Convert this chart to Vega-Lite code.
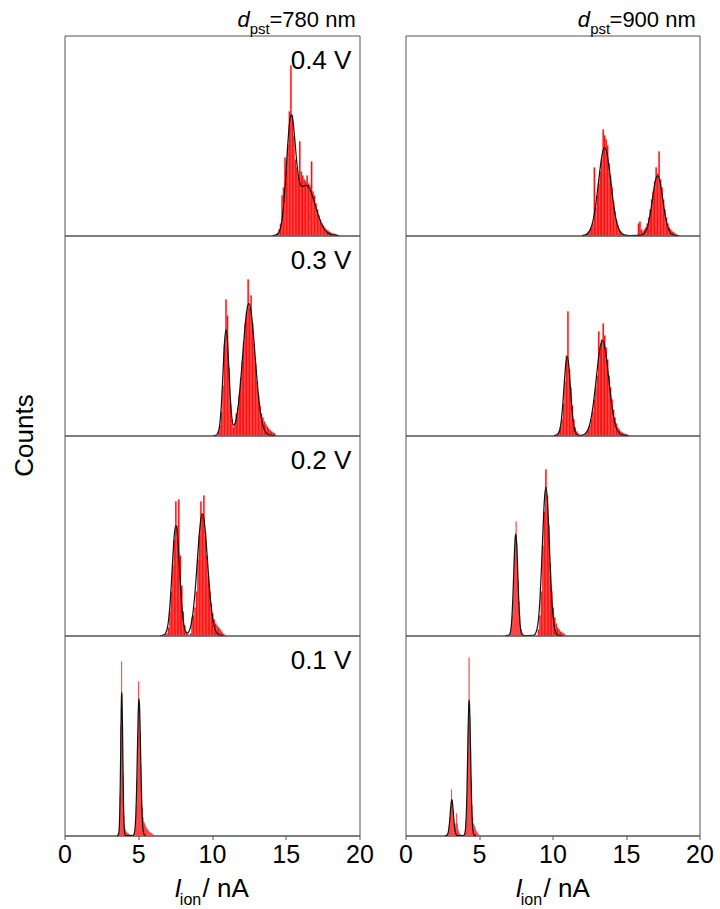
{
"$schema":"https://vega.github.io/schema/vega-lite/v6.json",
"background":"white",
"padding":{"left":10.5,"top":8.5,"right":5,"bottom":5},
"config":{"view":{"stroke":"#555","strokeWidth":1},"text":{"font":"Liberation Sans","color":"#000"},
"axis":{"labelFont":"Liberation Sans","labelFontSize":25,"labelColor":"#000","labelPadding":3,"labelFlush":false,"labelOverlap":false,"tickSize":4,"tickColor":"#555","domainColor":"#555","grid":false,"title":null}},
"datasets":{
"bars":[
{"p":"L1","a":14.4,"b":14.5,"c":1},{"p":"L1","a":14.5,"b":14.6,"c":3},{"p":"L1","a":14.6,"b":14.7,"c":6},{"p":"L1","a":14.7,"b":14.8,"c":20},{"p":"L1","a":14.8,"b":14.9,"c":24},{"p":"L1","a":14.9,"b":15.0,"c":39},{"p":"L1","a":15.0,"b":15.1,"c":33},{"p":"L1","a":15.1,"b":15.2,"c":45},{"p":"L1","a":15.2,"b":15.3,"c":62},{"p":"L1","a":15.3,"b":15.4,"c":85},{"p":"L1","a":15.4,"b":15.5,"c":60},{"p":"L1","a":15.5,"b":15.6,"c":50},{"p":"L1","a":15.6,"b":15.7,"c":38},{"p":"L1","a":15.7,"b":15.8,"c":34},{"p":"L1","a":15.8,"b":15.9,"c":30},{"p":"L1","a":15.9,"b":16.0,"c":47},{"p":"L1","a":16.0,"b":16.1,"c":32},{"p":"L1","a":16.1,"b":16.2,"c":30},{"p":"L1","a":16.2,"b":16.3,"c":28},{"p":"L1","a":16.3,"b":16.4,"c":27},{"p":"L1","a":16.4,"b":16.5,"c":30},{"p":"L1","a":16.5,"b":16.6,"c":26},{"p":"L1","a":16.6,"b":16.7,"c":25},{"p":"L1","a":16.7,"b":16.8,"c":37},{"p":"L1","a":16.8,"b":16.9,"c":22},{"p":"L1","a":16.9,"b":17.0,"c":20},{"p":"L1","a":17.0,"b":17.1,"c":16},{"p":"L1","a":17.1,"b":17.2,"c":13},{"p":"L1","a":17.2,"b":17.3,"c":10},{"p":"L1","a":17.3,"b":17.4,"c":8},{"p":"L1","a":17.4,"b":17.5,"c":6},{"p":"L1","a":17.5,"b":17.6,"c":5},{"p":"L1","a":17.6,"b":17.7,"c":4},{"p":"L1","a":17.7,"b":17.8,"c":3},{"p":"L1","a":17.8,"b":17.9,"c":2.5},{"p":"L1","a":17.9,"b":18.0,"c":2},{"p":"L1","a":18.0,"b":18.1,"c":1.5},{"p":"L1","a":18.1,"b":18.2,"c":1},{"p":"L1","a":18.2,"b":18.3,"c":1},{"p":"L1","a":18.3,"b":18.4,"c":0.8},{"p":"L1","a":18.4,"b":18.5,"c":0.5},
{"p":"R1","a":12.3,"b":12.4,"c":1},{"p":"R1","a":12.4,"b":12.5,"c":2},{"p":"R1","a":12.5,"b":12.6,"c":3},{"p":"R1","a":12.6,"b":12.7,"c":4},{"p":"R1","a":12.7,"b":12.8,"c":6},{"p":"R1","a":12.8,"b":12.9,"c":34},{"p":"R1","a":12.9,"b":13.0,"c":14},{"p":"R1","a":13.0,"b":13.1,"c":20},{"p":"R1","a":13.1,"b":13.2,"c":26},{"p":"R1","a":13.2,"b":13.3,"c":32},{"p":"R1","a":13.3,"b":13.4,"c":38},{"p":"R1","a":13.4,"b":13.5,"c":53},{"p":"R1","a":13.5,"b":13.6,"c":50},{"p":"R1","a":13.6,"b":13.7,"c":48},{"p":"R1","a":13.7,"b":13.8,"c":45},{"p":"R1","a":13.8,"b":13.9,"c":36},{"p":"R1","a":13.9,"b":14.0,"c":30},{"p":"R1","a":14.0,"b":14.1,"c":24},{"p":"R1","a":14.1,"b":14.2,"c":17},{"p":"R1","a":14.2,"b":14.3,"c":12},{"p":"R1","a":14.3,"b":14.4,"c":8},{"p":"R1","a":14.4,"b":14.5,"c":5},{"p":"R1","a":14.5,"b":14.6,"c":3},{"p":"R1","a":14.6,"b":14.7,"c":2},{"p":"R1","a":14.7,"b":14.8,"c":1},{"p":"R1","a":14.8,"b":14.9,"c":0.5},
{"p":"R1","a":15.8,"b":15.9,"c":6},{"p":"R1","a":15.9,"b":16.0,"c":7},{"p":"R1","a":16.0,"b":16.1,"c":3},{"p":"R1","a":16.1,"b":16.2,"c":2},{"p":"R1","a":16.2,"b":16.3,"c":3},{"p":"R1","a":16.3,"b":16.4,"c":4},{"p":"R1","a":16.4,"b":16.5,"c":6},{"p":"R1","a":16.5,"b":16.6,"c":9},{"p":"R1","a":16.6,"b":16.7,"c":13},{"p":"R1","a":16.7,"b":16.8,"c":18},{"p":"R1","a":16.8,"b":16.9,"c":22},{"p":"R1","a":16.9,"b":17.0,"c":27},{"p":"R1","a":17.0,"b":17.1,"c":34},{"p":"R1","a":17.1,"b":17.2,"c":31},{"p":"R1","a":17.2,"b":17.3,"c":42},{"p":"R1","a":17.3,"b":17.4,"c":28},{"p":"R1","a":17.4,"b":17.5,"c":24},{"p":"R1","a":17.5,"b":17.6,"c":18},{"p":"R1","a":17.6,"b":17.7,"c":13},{"p":"R1","a":17.7,"b":17.8,"c":9},{"p":"R1","a":17.8,"b":17.9,"c":6},{"p":"R1","a":17.9,"b":18.0,"c":4},{"p":"R1","a":18.0,"b":18.1,"c":3},{"p":"R1","a":18.1,"b":18.2,"c":2},{"p":"R1","a":18.2,"b":18.3,"c":1.5},{"p":"R1","a":18.3,"b":18.4,"c":1},{"p":"R1","a":18.4,"b":18.5,"c":0.5},
{"p":"L2","a":10.4,"b":10.5,"c":2},{"p":"L2","a":10.5,"b":10.6,"c":5},{"p":"L2","a":10.6,"b":10.7,"c":12},{"p":"L2","a":10.7,"b":10.8,"c":25},{"p":"L2","a":10.8,"b":10.9,"c":45},{"p":"L2","a":10.9,"b":11.0,"c":68},{"p":"L2","a":11.0,"b":11.1,"c":60},{"p":"L2","a":11.1,"b":11.2,"c":34},{"p":"L2","a":11.2,"b":11.3,"c":16},{"p":"L2","a":11.3,"b":11.4,"c":8},{"p":"L2","a":11.4,"b":11.5,"c":4},{"p":"L2","a":11.5,"b":11.6,"c":6},{"p":"L2","a":11.6,"b":11.7,"c":11},{"p":"L2","a":11.7,"b":11.8,"c":14},{"p":"L2","a":11.8,"b":11.9,"c":20},{"p":"L2","a":11.9,"b":12.0,"c":29},{"p":"L2","a":12.0,"b":12.1,"c":37},{"p":"L2","a":12.1,"b":12.2,"c":47},{"p":"L2","a":12.2,"b":12.3,"c":56},{"p":"L2","a":12.3,"b":12.4,"c":62},{"p":"L2","a":12.4,"b":12.5,"c":78},{"p":"L2","a":12.5,"b":12.6,"c":64},{"p":"L2","a":12.6,"b":12.7,"c":70},{"p":"L2","a":12.7,"b":12.8,"c":56},{"p":"L2","a":12.8,"b":12.9,"c":46},{"p":"L2","a":12.9,"b":13.0,"c":36},{"p":"L2","a":13.0,"b":13.1,"c":27},{"p":"L2","a":13.1,"b":13.2,"c":20},{"p":"L2","a":13.2,"b":13.3,"c":15},{"p":"L2","a":13.3,"b":13.4,"c":11},{"p":"L2","a":13.4,"b":13.5,"c":9},{"p":"L2","a":13.5,"b":13.6,"c":7},{"p":"L2","a":13.6,"b":13.7,"c":5.5},{"p":"L2","a":13.7,"b":13.8,"c":4.5},{"p":"L2","a":13.8,"b":13.9,"c":3.5},{"p":"L2","a":13.9,"b":14.0,"c":2.5},{"p":"L2","a":14.0,"b":14.1,"c":2},{"p":"L2","a":14.1,"b":14.2,"c":1.5},{"p":"L2","a":14.2,"b":14.3,"c":1},
{"p":"R2","a":10.2,"b":10.3,"c":0.5},{"p":"R2","a":10.3,"b":10.4,"c":1},{"p":"R2","a":10.4,"b":10.5,"c":2},{"p":"R2","a":10.5,"b":10.6,"c":4},{"p":"R2","a":10.6,"b":10.7,"c":8},{"p":"R2","a":10.7,"b":10.8,"c":16},{"p":"R2","a":10.8,"b":10.9,"c":27},{"p":"R2","a":10.9,"b":11.0,"c":40},{"p":"R2","a":11.0,"b":11.1,"c":62},{"p":"R2","a":11.1,"b":11.2,"c":33},{"p":"R2","a":11.2,"b":11.3,"c":24},{"p":"R2","a":11.3,"b":11.4,"c":15},{"p":"R2","a":11.4,"b":11.5,"c":8},{"p":"R2","a":11.5,"b":11.6,"c":4},{"p":"R2","a":11.6,"b":11.7,"c":2},{"p":"R2","a":11.7,"b":11.8,"c":1},
{"p":"R2","a":12.2,"b":12.3,"c":1},{"p":"R2","a":12.3,"b":12.4,"c":2},{"p":"R2","a":12.4,"b":12.5,"c":3},{"p":"R2","a":12.5,"b":12.6,"c":5},{"p":"R2","a":12.6,"b":12.7,"c":8},{"p":"R2","a":12.7,"b":12.8,"c":12},{"p":"R2","a":12.8,"b":12.9,"c":18},{"p":"R2","a":12.9,"b":13.0,"c":24},{"p":"R2","a":13.0,"b":13.1,"c":30},{"p":"R2","a":13.1,"b":13.2,"c":52},{"p":"R2","a":13.2,"b":13.3,"c":44},{"p":"R2","a":13.3,"b":13.4,"c":48},{"p":"R2","a":13.4,"b":13.5,"c":56},{"p":"R2","a":13.5,"b":13.6,"c":50},{"p":"R2","a":13.6,"b":13.7,"c":44},{"p":"R2","a":13.7,"b":13.8,"c":38},{"p":"R2","a":13.8,"b":13.9,"c":30},{"p":"R2","a":13.9,"b":14.0,"c":24},{"p":"R2","a":14.0,"b":14.1,"c":18},{"p":"R2","a":14.1,"b":14.2,"c":13},{"p":"R2","a":14.2,"b":14.3,"c":9},{"p":"R2","a":14.3,"b":14.4,"c":6},{"p":"R2","a":14.4,"b":14.5,"c":4},{"p":"R2","a":14.5,"b":14.6,"c":3},{"p":"R2","a":14.6,"b":14.7,"c":2},{"p":"R2","a":14.7,"b":14.8,"c":1.5},{"p":"R2","a":14.8,"b":14.9,"c":1},{"p":"R2","a":14.9,"b":15.0,"c":0.8},{"p":"R2","a":15.0,"b":15.1,"c":0.5},
{"p":"L3","a":6.8,"b":6.9,"c":0.5},{"p":"L3","a":6.9,"b":7.0,"c":1},{"p":"L3","a":7.0,"b":7.1,"c":4},{"p":"L3","a":7.1,"b":7.2,"c":12},{"p":"L3","a":7.2,"b":7.3,"c":22},{"p":"L3","a":7.3,"b":7.4,"c":35},{"p":"L3","a":7.4,"b":7.5,"c":48},{"p":"L3","a":7.5,"b":7.6,"c":67},{"p":"L3","a":7.6,"b":7.7,"c":55},{"p":"L3","a":7.7,"b":7.8,"c":68},{"p":"L3","a":7.8,"b":7.9,"c":40},{"p":"L3","a":7.9,"b":8.0,"c":25},{"p":"L3","a":8.0,"b":8.1,"c":12},{"p":"L3","a":8.1,"b":8.2,"c":5},{"p":"L3","a":8.2,"b":8.3,"c":2},{"p":"L3","a":8.3,"b":8.4,"c":1},
{"p":"L3","a":8.5,"b":8.6,"c":1},{"p":"L3","a":8.6,"b":8.7,"c":9},{"p":"L3","a":8.7,"b":8.8,"c":10},{"p":"L3","a":8.8,"b":8.9,"c":14},{"p":"L3","a":8.9,"b":9.0,"c":22},{"p":"L3","a":9.0,"b":9.1,"c":38},{"p":"L3","a":9.1,"b":9.2,"c":50},{"p":"L3","a":9.2,"b":9.3,"c":67},{"p":"L3","a":9.3,"b":9.4,"c":60},{"p":"L3","a":9.4,"b":9.5,"c":70},{"p":"L3","a":9.5,"b":9.6,"c":52},{"p":"L3","a":9.6,"b":9.7,"c":40},{"p":"L3","a":9.7,"b":9.8,"c":30},{"p":"L3","a":9.8,"b":9.9,"c":22},{"p":"L3","a":9.9,"b":10.0,"c":16},{"p":"L3","a":10.0,"b":10.1,"c":11},{"p":"L3","a":10.1,"b":10.2,"c":8},{"p":"L3","a":10.2,"b":10.3,"c":6},{"p":"L3","a":10.3,"b":10.4,"c":5},{"p":"L3","a":10.4,"b":10.5,"c":4},{"p":"L3","a":10.5,"b":10.6,"c":3},{"p":"L3","a":10.6,"b":10.7,"c":2},{"p":"L3","a":10.7,"b":10.8,"c":1},{"p":"L3","a":10.8,"b":10.9,"c":0.5},
{"p":"R3","a":7.1,"b":7.15,"c":1},{"p":"R3","a":7.15,"b":7.2,"c":2},{"p":"R3","a":7.2,"b":7.25,"c":5},{"p":"R3","a":7.25,"b":7.3,"c":10},{"p":"R3","a":7.3,"b":7.35,"c":18},{"p":"R3","a":7.35,"b":7.4,"c":28},{"p":"R3","a":7.4,"b":7.45,"c":40},{"p":"R3","a":7.45,"b":7.5,"c":50},{"p":"R3","a":7.5,"b":7.55,"c":57},{"p":"R3","a":7.55,"b":7.6,"c":46},{"p":"R3","a":7.6,"b":7.65,"c":38},{"p":"R3","a":7.65,"b":7.7,"c":27},{"p":"R3","a":7.7,"b":7.75,"c":17},{"p":"R3","a":7.75,"b":7.8,"c":10},{"p":"R3","a":7.8,"b":7.85,"c":5},{"p":"R3","a":7.85,"b":7.9,"c":3},{"p":"R3","a":7.9,"b":7.95,"c":1.5},{"p":"R3","a":7.95,"b":8.0,"c":1},
{"p":"R3","a":9.0,"b":9.1,"c":3},{"p":"R3","a":9.1,"b":9.2,"c":10},{"p":"R3","a":9.2,"b":9.3,"c":22},{"p":"R3","a":9.3,"b":9.4,"c":45},{"p":"R3","a":9.4,"b":9.5,"c":62},{"p":"R3","a":9.5,"b":9.6,"c":83},{"p":"R3","a":9.6,"b":9.7,"c":70},{"p":"R3","a":9.7,"b":9.8,"c":55},{"p":"R3","a":9.8,"b":9.9,"c":36},{"p":"R3","a":9.9,"b":10.0,"c":22},{"p":"R3","a":10.0,"b":10.1,"c":14},{"p":"R3","a":10.1,"b":10.2,"c":9},{"p":"R3","a":10.2,"b":10.3,"c":6},{"p":"R3","a":10.3,"b":10.4,"c":4},{"p":"R3","a":10.4,"b":10.5,"c":3},{"p":"R3","a":10.5,"b":10.6,"c":2},{"p":"R3","a":10.6,"b":10.7,"c":1.5},{"p":"R3","a":10.7,"b":10.8,"c":1},{"p":"R3","a":10.8,"b":10.9,"c":0.5},
{"p":"L4","a":3.6,"b":3.65,"c":0.5},{"p":"L4","a":3.65,"b":3.7,"c":1},{"p":"L4","a":3.7,"b":3.75,"c":4},{"p":"L4","a":3.75,"b":3.8,"c":20},{"p":"L4","a":3.8,"b":3.85,"c":55},{"p":"L4","a":3.85,"b":3.9,"c":87},{"p":"L4","a":3.9,"b":3.95,"c":60},{"p":"L4","a":3.95,"b":4.0,"c":30},{"p":"L4","a":4.0,"b":4.05,"c":10},{"p":"L4","a":4.05,"b":4.1,"c":5},{"p":"L4","a":4.1,"b":4.15,"c":3},{"p":"L4","a":4.15,"b":4.2,"c":2},{"p":"L4","a":4.2,"b":4.25,"c":1.5},{"p":"L4","a":4.25,"b":4.3,"c":1},{"p":"L4","a":4.3,"b":4.35,"c":1},{"p":"L4","a":4.35,"b":4.4,"c":0.5},{"p":"L4","a":4.4,"b":4.45,"c":0.5},
{"p":"L4","a":4.7,"b":4.75,"c":0.5},{"p":"L4","a":4.75,"b":4.8,"c":2},{"p":"L4","a":4.8,"b":4.85,"c":6},{"p":"L4","a":4.85,"b":4.9,"c":15},{"p":"L4","a":4.9,"b":4.95,"c":28},{"p":"L4","a":4.95,"b":5.0,"c":50},{"p":"L4","a":5.0,"b":5.05,"c":77},{"p":"L4","a":5.05,"b":5.1,"c":66},{"p":"L4","a":5.1,"b":5.15,"c":52},{"p":"L4","a":5.15,"b":5.2,"c":35},{"p":"L4","a":5.2,"b":5.25,"c":22},{"p":"L4","a":5.25,"b":5.3,"c":14},{"p":"L4","a":5.3,"b":5.35,"c":9},{"p":"L4","a":5.35,"b":5.4,"c":7},{"p":"L4","a":5.4,"b":5.45,"c":6},{"p":"L4","a":5.45,"b":5.5,"c":5},{"p":"L4","a":5.5,"b":5.55,"c":4},{"p":"L4","a":5.55,"b":5.6,"c":3.5},{"p":"L4","a":5.6,"b":5.65,"c":3},{"p":"L4","a":5.65,"b":5.7,"c":2.5},{"p":"L4","a":5.7,"b":5.75,"c":2},{"p":"L4","a":5.75,"b":5.8,"c":1.5},{"p":"L4","a":5.8,"b":5.85,"c":1.5},{"p":"L4","a":5.85,"b":5.9,"c":1},{"p":"L4","a":5.9,"b":5.95,"c":1},{"p":"L4","a":5.95,"b":6.0,"c":0.5},{"p":"L4","a":6.0,"b":6.05,"c":0.5},
{"p":"R4","a":2.85,"b":2.9,"c":1},{"p":"R4","a":2.9,"b":2.95,"c":2},{"p":"R4","a":2.95,"b":3.0,"c":5},{"p":"R4","a":3.0,"b":3.05,"c":9},{"p":"R4","a":3.05,"b":3.1,"c":14},{"p":"R4","a":3.1,"b":3.15,"c":23},{"p":"R4","a":3.15,"b":3.2,"c":18},{"p":"R4","a":3.2,"b":3.25,"c":13},{"p":"R4","a":3.25,"b":3.3,"c":8},{"p":"R4","a":3.3,"b":3.35,"c":5},{"p":"R4","a":3.35,"b":3.4,"c":4},{"p":"R4","a":3.4,"b":3.45,"c":6},{"p":"R4","a":3.45,"b":3.5,"c":11},{"p":"R4","a":3.5,"b":3.55,"c":6},{"p":"R4","a":3.55,"b":3.6,"c":3},{"p":"R4","a":3.6,"b":3.65,"c":2},{"p":"R4","a":3.65,"b":3.7,"c":1},{"p":"R4","a":3.7,"b":3.75,"c":0.5},
{"p":"R4","a":4.0,"b":4.05,"c":1},{"p":"R4","a":4.05,"b":4.1,"c":3},{"p":"R4","a":4.1,"b":4.15,"c":8},{"p":"R4","a":4.15,"b":4.2,"c":18},{"p":"R4","a":4.2,"b":4.25,"c":35},{"p":"R4","a":4.25,"b":4.3,"c":55},{"p":"R4","a":4.3,"b":4.35,"c":89},{"p":"R4","a":4.35,"b":4.4,"c":60},{"p":"R4","a":4.4,"b":4.45,"c":42},{"p":"R4","a":4.45,"b":4.5,"c":28},{"p":"R4","a":4.5,"b":4.55,"c":15},{"p":"R4","a":4.55,"b":4.6,"c":9},{"p":"R4","a":4.6,"b":4.65,"c":6},{"p":"R4","a":4.65,"b":4.7,"c":5},{"p":"R4","a":4.7,"b":4.75,"c":4},{"p":"R4","a":4.75,"b":4.8,"c":3},{"p":"R4","a":4.8,"b":4.85,"c":2},{"p":"R4","a":4.85,"b":4.9,"c":1.5},{"p":"R4","a":4.9,"b":4.95,"c":1},{"p":"R4","a":4.95,"b":5.0,"c":0.5}
],
"fit":[
{"p":"L1","x":14.1,"y":0},{"p":"L1","x":14.3,"y":0.2},{"p":"L1","x":14.5,"y":1.2},{"p":"L1","x":14.7,"y":5.7},{"p":"L1","x":14.9,"y":19},{"p":"L1","x":15.0,"y":29.5},{"p":"L1","x":15.1,"y":41.3},{"p":"L1","x":15.2,"y":51.9},{"p":"L1","x":15.3,"y":58.9},{"p":"L1","x":15.4,"y":60.4},{"p":"L1","x":15.5,"y":56.6},{"p":"L1","x":15.6,"y":49.2},{"p":"L1","x":15.7,"y":40.5},{"p":"L1","x":15.8,"y":33.1},{"p":"L1","x":15.9,"y":27.9},{"p":"L1","x":16.0,"y":25.3},{"p":"L1","x":16.1,"y":24.5},{"p":"L1","x":16.2,"y":24.6},{"p":"L1","x":16.3,"y":25.1},{"p":"L1","x":16.4,"y":25.1},{"p":"L1","x":16.6,"y":23.6},{"p":"L1","x":16.8,"y":20},{"p":"L1","x":17.0,"y":15.2},{"p":"L1","x":17.2,"y":10.3},{"p":"L1","x":17.4,"y":6.2},{"p":"L1","x":17.6,"y":3.4},{"p":"L1","x":17.8,"y":1.6},{"p":"L1","x":18.0,"y":0.7},{"p":"L1","x":18.3,"y":0.2},{"p":"L1","x":18.6,"y":0},
{"p":"R1","x":12.0,"y":0},{"p":"R1","x":12.15,"y":0.17},{"p":"R1","x":12.35,"y":0.74},{"p":"R1","x":12.55,"y":2.6},{"p":"R1","x":12.75,"y":7.2},{"p":"R1","x":12.85,"y":11},{"p":"R1","x":12.95,"y":15.9},{"p":"R1","x":13.05,"y":21.7},{"p":"R1","x":13.15,"y":28},{"p":"R1","x":13.25,"y":34.1},{"p":"R1","x":13.35,"y":39.3},{"p":"R1","x":13.45,"y":42.8},{"p":"R1","x":13.55,"y":44},{"p":"R1","x":13.65,"y":42.8},{"p":"R1","x":13.75,"y":39.3},{"p":"R1","x":13.85,"y":34.1},{"p":"R1","x":13.95,"y":28},{"p":"R1","x":14.05,"y":21.7},{"p":"R1","x":14.15,"y":15.9},{"p":"R1","x":14.25,"y":11},{"p":"R1","x":14.35,"y":7.2},{"p":"R1","x":14.55,"y":2.6},{"p":"R1","x":14.75,"y":0.74},{"p":"R1","x":14.95,"y":0.17},{"p":"R1","x":15.2,"y":0},{"p":"R1","x":15.8,"y":0.03},{"p":"R1","x":15.95,"y":0.08},{"p":"R1","x":16.15,"y":0.5},{"p":"R1","x":16.35,"y":2.2},{"p":"R1","x":16.45,"y":4.06},{"p":"R1","x":16.55,"y":6.9},{"p":"R1","x":16.65,"y":10.8},{"p":"R1","x":16.75,"y":15.6},{"p":"R1","x":16.85,"y":20.8},{"p":"R1","x":16.95,"y":25.5},{"p":"R1","x":17.05,"y":28.8},{"p":"R1","x":17.15,"y":30},{"p":"R1","x":17.25,"y":28.8},{"p":"R1","x":17.35,"y":25.5},{"p":"R1","x":17.45,"y":20.8},{"p":"R1","x":17.55,"y":15.6},{"p":"R1","x":17.65,"y":10.8},{"p":"R1","x":17.75,"y":6.9},{"p":"R1","x":17.85,"y":4.06},{"p":"R1","x":17.95,"y":2.2},{"p":"R1","x":18.15,"y":0.5},{"p":"R1","x":18.35,"y":0.08},{"p":"R1","x":18.6,"y":0},
{"p":"L2","x":10.1,"y":0},{"p":"L2","x":10.25,"y":0.1},{"p":"L2","x":10.45,"y":2.3},{"p":"L2","x":10.55,"y":7.2},{"p":"L2","x":10.65,"y":17.2},{"p":"L2","x":10.75,"y":32.1},{"p":"L2","x":10.85,"y":46.8},{"p":"L2","x":10.95,"y":53.1},{"p":"L2","x":11.05,"y":47},{"p":"L2","x":11.15,"y":32.5},{"p":"L2","x":11.25,"y":18},{"p":"L2","x":11.35,"y":8.75},{"p":"L2","x":11.45,"y":5.2},{"p":"L2","x":11.55,"y":5.7},{"p":"L2","x":11.65,"y":8.6},{"p":"L2","x":11.8,"y":16.4},{"p":"L2","x":11.9,"y":23.8},{"p":"L2","x":12.0,"y":32.5},{"p":"L2","x":12.1,"y":41.9},{"p":"L2","x":12.2,"y":51.2},{"p":"L2","x":12.3,"y":58.9},{"p":"L2","x":12.4,"y":64.2},{"p":"L2","x":12.5,"y":66},{"p":"L2","x":12.6,"y":64.2},{"p":"L2","x":12.7,"y":58.9},{"p":"L2","x":12.8,"y":51.2},{"p":"L2","x":12.9,"y":41.9},{"p":"L2","x":13.0,"y":32.5},{"p":"L2","x":13.1,"y":23.8},{"p":"L2","x":13.2,"y":16.4},{"p":"L2","x":13.3,"y":10.8},{"p":"L2","x":13.4,"y":6.6},{"p":"L2","x":13.5,"y":3.9},{"p":"L2","x":13.6,"y":2.1},{"p":"L2","x":13.7,"y":1.1},{"p":"L2","x":13.8,"y":0.55},{"p":"L2","x":13.9,"y":0.26},{"p":"L2","x":14.1,"y":0.05},{"p":"L2","x":14.3,"y":0},
{"p":"R2","x":10.1,"y":0},{"p":"R2","x":10.2,"y":0.05},{"p":"R2","x":10.3,"y":0.25},{"p":"R2","x":10.4,"y":0.96},{"p":"R2","x":10.5,"y":3},{"p":"R2","x":10.6,"y":7.5},{"p":"R2","x":10.7,"y":15.6},{"p":"R2","x":10.8,"y":26.1},{"p":"R2","x":10.9,"y":35.6},{"p":"R2","x":11.0,"y":39.5},{"p":"R2","x":11.1,"y":35.6},{"p":"R2","x":11.2,"y":26.1},{"p":"R2","x":11.3,"y":15.6},{"p":"R2","x":11.4,"y":7.5},{"p":"R2","x":11.5,"y":3},{"p":"R2","x":11.6,"y":0.96},{"p":"R2","x":11.7,"y":0.25},{"p":"R2","x":11.85,"y":0.08},{"p":"R2","x":12.0,"y":0.19},{"p":"R2","x":12.1,"y":0.39},{"p":"R2","x":12.2,"y":0.8},{"p":"R2","x":12.3,"y":1.54},{"p":"R2","x":12.4,"y":2.8},{"p":"R2","x":12.5,"y":4.75},{"p":"R2","x":12.6,"y":7.7},{"p":"R2","x":12.7,"y":11.8},{"p":"R2","x":12.8,"y":17.1},{"p":"R2","x":12.9,"y":23.4},{"p":"R2","x":13.0,"y":30.2},{"p":"R2","x":13.1,"y":36.8},{"p":"R2","x":13.2,"y":42.4},{"p":"R2","x":13.3,"y":46.2},{"p":"R2","x":13.4,"y":47.5},{"p":"R2","x":13.5,"y":46.2},{"p":"R2","x":13.6,"y":42.4},{"p":"R2","x":13.7,"y":36.8},{"p":"R2","x":13.8,"y":30.2},{"p":"R2","x":13.9,"y":23.4},{"p":"R2","x":14.0,"y":17.1},{"p":"R2","x":14.1,"y":11.8},{"p":"R2","x":14.2,"y":7.7},{"p":"R2","x":14.3,"y":4.75},{"p":"R2","x":14.4,"y":2.8},{"p":"R2","x":14.5,"y":1.54},{"p":"R2","x":14.6,"y":0.8},{"p":"R2","x":14.7,"y":0.39},{"p":"R2","x":14.8,"y":0.19},{"p":"R2","x":15.0,"y":0.03},{"p":"R2","x":15.2,"y":0},
{"p":"L3","x":6.5,"y":0},{"p":"L3","x":6.65,"y":0.08},{"p":"L3","x":6.75,"y":0.33},{"p":"L3","x":6.85,"y":1.09},{"p":"L3","x":6.95,"y":3.1},{"p":"L3","x":7.05,"y":7.4},{"p":"L3","x":7.15,"y":15.3},{"p":"L3","x":7.25,"y":26.8},{"p":"L3","x":7.35,"y":39.9},{"p":"L3","x":7.45,"y":50.8},{"p":"L3","x":7.55,"y":55},{"p":"L3","x":7.65,"y":50.8},{"p":"L3","x":7.75,"y":39.9},{"p":"L3","x":7.85,"y":26.8},{"p":"L3","x":7.95,"y":15.3},{"p":"L3","x":8.05,"y":7.5},{"p":"L3","x":8.15,"y":3.3},{"p":"L3","x":8.25,"y":1.5},{"p":"L3","x":8.35,"y":1.36},{"p":"L3","x":8.45,"y":2.3},{"p":"L3","x":8.55,"y":4.46},{"p":"L3","x":8.65,"y":8.2},{"p":"L3","x":8.75,"y":14},{"p":"L3","x":8.85,"y":21.9},{"p":"L3","x":8.95,"y":31.6},{"p":"L3","x":9.05,"y":42.1},{"p":"L3","x":9.15,"y":51.6},{"p":"L3","x":9.25,"y":58.4},{"p":"L3","x":9.35,"y":60.8},{"p":"L3","x":9.45,"y":58.4},{"p":"L3","x":9.55,"y":51.6},{"p":"L3","x":9.65,"y":42.1},{"p":"L3","x":9.75,"y":31.6},{"p":"L3","x":9.85,"y":21.9},{"p":"L3","x":9.95,"y":14},{"p":"L3","x":10.05,"y":8.2},{"p":"L3","x":10.15,"y":4.46},{"p":"L3","x":10.25,"y":2.2},{"p":"L3","x":10.35,"y":1.03},{"p":"L3","x":10.55,"y":0.17},{"p":"L3","x":10.8,"y":0},
{"p":"R3","x":6.8,"y":0},{"p":"R3","x":7.0,"y":0.09},{"p":"R3","x":7.1,"y":0.86},{"p":"R3","x":7.15,"y":2.2},{"p":"R3","x":7.2,"y":5.1},{"p":"R3","x":7.25,"y":10.3},{"p":"R3","x":7.3,"y":18.3},{"p":"R3","x":7.35,"y":28.6},{"p":"R3","x":7.4,"y":39.4},{"p":"R3","x":7.45,"y":47.6},{"p":"R3","x":7.5,"y":50.8},{"p":"R3","x":7.55,"y":47.6},{"p":"R3","x":7.6,"y":39.4},{"p":"R3","x":7.65,"y":28.6},{"p":"R3","x":7.7,"y":18.3},{"p":"R3","x":7.75,"y":10.3},{"p":"R3","x":7.8,"y":5.1},{"p":"R3","x":7.85,"y":2.2},{"p":"R3","x":7.9,"y":0.86},{"p":"R3","x":8.0,"y":0.09},{"p":"R3","x":8.3,"y":0},{"p":"R3","x":8.65,"y":0.07},{"p":"R3","x":8.75,"y":0.29},{"p":"R3","x":8.85,"y":1.05},{"p":"R3","x":8.95,"y":3.26},{"p":"R3","x":9.05,"y":8.5},{"p":"R3","x":9.15,"y":18.5},{"p":"R3","x":9.25,"y":34},{"p":"R3","x":9.35,"y":52.5},{"p":"R3","x":9.45,"y":68},{"p":"R3","x":9.55,"y":74.2},{"p":"R3","x":9.65,"y":68},{"p":"R3","x":9.75,"y":52.5},{"p":"R3","x":9.85,"y":34},{"p":"R3","x":9.95,"y":18.5},{"p":"R3","x":10.05,"y":8.5},{"p":"R3","x":10.15,"y":3.26},{"p":"R3","x":10.25,"y":1.05},{"p":"R3","x":10.35,"y":0.29},{"p":"R3","x":10.45,"y":0.07},{"p":"R3","x":10.7,"y":0},
{"p":"L4","x":3.55,"y":0},{"p":"L4","x":3.63,"y":0.12},{"p":"L4","x":3.68,"y":1.21},{"p":"L4","x":3.7,"y":2.62},{"p":"L4","x":3.72,"y":5.26},{"p":"L4","x":3.74,"y":9.7},{"p":"L4","x":3.76,"y":16.5},{"p":"L4","x":3.78,"y":25.8},{"p":"L4","x":3.8,"y":37.3},{"p":"L4","x":3.82,"y":49.7},{"p":"L4","x":3.84,"y":60.9},{"p":"L4","x":3.86,"y":68.8},{"p":"L4","x":3.88,"y":71.7},{"p":"L4","x":3.9,"y":68.8},{"p":"L4","x":3.92,"y":60.9},{"p":"L4","x":3.94,"y":49.7},{"p":"L4","x":3.96,"y":37.3},{"p":"L4","x":3.98,"y":25.8},{"p":"L4","x":4.0,"y":16.5},{"p":"L4","x":4.02,"y":9.7},{"p":"L4","x":4.04,"y":5.26},{"p":"L4","x":4.06,"y":2.62},{"p":"L4","x":4.08,"y":1.21},{"p":"L4","x":4.13,"y":0.12},{"p":"L4","x":4.2,"y":0},{"p":"L4","x":4.6,"y":0},{"p":"L4","x":4.69,"y":0.32},{"p":"L4","x":4.75,"y":1.66},{"p":"L4","x":4.78,"y":3.36},{"p":"L4","x":4.81,"y":6.32},{"p":"L4","x":4.84,"y":11.1},{"p":"L4","x":4.87,"y":17.9},{"p":"L4","x":4.9,"y":27},{"p":"L4","x":4.93,"y":37.7},{"p":"L4","x":4.96,"y":48.9},{"p":"L4","x":4.99,"y":58.9},{"p":"L4","x":5.02,"y":65.8},{"p":"L4","x":5.05,"y":68.3},{"p":"L4","x":5.08,"y":65.8},{"p":"L4","x":5.11,"y":58.9},{"p":"L4","x":5.14,"y":48.9},{"p":"L4","x":5.17,"y":37.7},{"p":"L4","x":5.2,"y":27},{"p":"L4","x":5.23,"y":17.9},{"p":"L4","x":5.26,"y":11.1},{"p":"L4","x":5.29,"y":6.32},{"p":"L4","x":5.32,"y":3.36},{"p":"L4","x":5.35,"y":1.66},{"p":"L4","x":5.41,"y":0.32},{"p":"L4","x":5.5,"y":0},
{"p":"R4","x":2.7,"y":0},{"p":"R4","x":2.79,"y":0.08},{"p":"R4","x":2.85,"y":0.43},{"p":"R4","x":2.88,"y":0.88},{"p":"R4","x":2.91,"y":1.65},{"p":"R4","x":2.94,"y":2.9},{"p":"R4","x":2.97,"y":4.66},{"p":"R4","x":3.0,"y":7},{"p":"R4","x":3.03,"y":9.8},{"p":"R4","x":3.06,"y":12.7},{"p":"R4","x":3.09,"y":15.3},{"p":"R4","x":3.12,"y":17.1},{"p":"R4","x":3.15,"y":17.8},{"p":"R4","x":3.18,"y":17.1},{"p":"R4","x":3.21,"y":15.3},{"p":"R4","x":3.24,"y":12.7},{"p":"R4","x":3.27,"y":9.8},{"p":"R4","x":3.3,"y":7},{"p":"R4","x":3.33,"y":4.66},{"p":"R4","x":3.36,"y":2.9},{"p":"R4","x":3.39,"y":1.65},{"p":"R4","x":3.42,"y":0.88},{"p":"R4","x":3.45,"y":0.43},{"p":"R4","x":3.51,"y":0.08},{"p":"R4","x":3.6,"y":0},{"p":"R4","x":3.9,"y":0},{"p":"R4","x":3.97,"y":0.1},{"p":"R4","x":4.03,"y":0.75},{"p":"R4","x":4.06,"y":1.77},{"p":"R4","x":4.09,"y":3.8},{"p":"R4","x":4.12,"y":7.5},{"p":"R4","x":4.15,"y":13.4},{"p":"R4","x":4.18,"y":22},{"p":"R4","x":4.21,"y":33},{"p":"R4","x":4.24,"y":45.2},{"p":"R4","x":4.27,"y":56.6},{"p":"R4","x":4.3,"y":64.8},{"p":"R4","x":4.33,"y":67.8},{"p":"R4","x":4.36,"y":64.8},{"p":"R4","x":4.39,"y":56.6},{"p":"R4","x":4.42,"y":45.2},{"p":"R4","x":4.45,"y":33},{"p":"R4","x":4.48,"y":22},{"p":"R4","x":4.51,"y":13.4},{"p":"R4","x":4.54,"y":7.5},{"p":"R4","x":4.57,"y":3.8},{"p":"R4","x":4.6,"y":1.77},{"p":"R4","x":4.63,"y":0.75},{"p":"R4","x":4.69,"y":0.1},{"p":"R4","x":4.8,"y":0}
]},
"bounds":"flush",
"columns":2,
"spacing":{"row":0,"column":46},
"concat":[
{"width":295,"height":200,"layer":[
{"data":{"name":"bars"},"transform":[{"filter":"datum.p==='L1'"}],"mark":{"type":"rect","fill":"#ff0000","stroke":"#ff6a6a","strokeWidth":0.3},"encoding":{"x":{"field":"a","type":"quantitative","scale":{"domain":[0,20],"nice":false},"axis":null},"x2":{"field":"b"},"y":{"field":"c","type":"quantitative","scale":{"domain":[0,100],"nice":false},"axis":null},"y2":{"datum":0}}},
{"data":{"name":"fit"},"transform":[{"filter":"datum.p==='L1'"}],"mark":{"type":"line","color":"#111","strokeWidth":1.2,"interpolate":"monotone"},"encoding":{"x":{"field":"x","type":"quantitative"},"y":{"field":"y","type":"quantitative"}}},
{"data":{"values":[{}]},"mark":{"type":"text","text":"0.4 V","align":"right","baseline":"alphabetic","fontSize":26},"encoding":{"x":{"datum":19.45},"y":{"datum":83.5}}},
{"data":{"values":[{}]},"mark":{"type":"text","text":"d","align":"left","baseline":"alphabetic","fontSize":22,"fontStyle":"italic"},"encoding":{"x":{"datum":11.73},"y":{"datum":104.2}}},
{"data":{"values":[{}]},"mark":{"type":"text","text":"pst","align":"left","baseline":"alphabetic","fontSize":15},"encoding":{"x":{"datum":12.56},"y":{"datum":101}}},
{"data":{"values":[{}]},"mark":{"type":"text","text":"=780 nm","align":"left","baseline":"alphabetic","fontSize":22},"encoding":{"x":{"datum":13.9},"y":{"datum":104.2}}}
]},
{"width":294,"height":200,"layer":[
{"data":{"name":"bars"},"transform":[{"filter":"datum.p==='R1'"}],"mark":{"type":"rect","fill":"#ff0000","stroke":"#ff6a6a","strokeWidth":0.3},"encoding":{"x":{"field":"a","type":"quantitative","scale":{"domain":[0,20],"nice":false},"axis":null},"x2":{"field":"b"},"y":{"field":"c","type":"quantitative","scale":{"domain":[0,100],"nice":false},"axis":null},"y2":{"datum":0}}},
{"data":{"name":"fit"},"transform":[{"filter":"datum.p==='R1'"}],"mark":{"type":"line","color":"#111","strokeWidth":1.2,"interpolate":"monotone"},"encoding":{"x":{"field":"x","type":"quantitative"},"y":{"field":"y","type":"quantitative"}}},
{"data":{"values":[{}]},"mark":{"type":"text","text":"d","align":"left","baseline":"alphabetic","fontSize":22,"fontStyle":"italic"},"encoding":{"x":{"datum":11.72},"y":{"datum":104.2}}},
{"data":{"values":[{}]},"mark":{"type":"text","text":"pst","align":"left","baseline":"alphabetic","fontSize":15},"encoding":{"x":{"datum":12.56},"y":{"datum":101}}},
{"data":{"values":[{}]},"mark":{"type":"text","text":"=900 nm","align":"left","baseline":"alphabetic","fontSize":22},"encoding":{"x":{"datum":13.88},"y":{"datum":104.2}}}
]},
{"width":295,"height":200,"layer":[
{"data":{"name":"bars"},"transform":[{"filter":"datum.p==='L2'"}],"mark":{"type":"rect","fill":"#ff0000","stroke":"#ff6a6a","strokeWidth":0.3},"encoding":{"x":{"field":"a","type":"quantitative","scale":{"domain":[0,20],"nice":false},"axis":null},"x2":{"field":"b"},"y":{"field":"c","type":"quantitative","scale":{"domain":[0,100],"nice":false},"axis":null},"y2":{"datum":0}}},
{"data":{"name":"fit"},"transform":[{"filter":"datum.p==='L2'"}],"mark":{"type":"line","color":"#111","strokeWidth":1.2,"interpolate":"monotone"},"encoding":{"x":{"field":"x","type":"quantitative"},"y":{"field":"y","type":"quantitative"}}},
{"data":{"values":[{}]},"mark":{"type":"text","text":"0.3 V","align":"right","baseline":"alphabetic","fontSize":26},"encoding":{"x":{"datum":19.45},"y":{"datum":83.5}}},
{"data":{"values":[{}]},"mark":{"type":"text","text":"Counts","align":"center","baseline":"middle","angle":270,"fontSize":26},"encoding":{"x":{"datum":-2.71},"y":{"datum":0}}}
]},
{"width":294,"height":200,"layer":[
{"data":{"name":"bars"},"transform":[{"filter":"datum.p==='R2'"}],"mark":{"type":"rect","fill":"#ff0000","stroke":"#ff6a6a","strokeWidth":0.3},"encoding":{"x":{"field":"a","type":"quantitative","scale":{"domain":[0,20],"nice":false},"axis":null},"x2":{"field":"b"},"y":{"field":"c","type":"quantitative","scale":{"domain":[0,100],"nice":false},"axis":null},"y2":{"datum":0}}},
{"data":{"name":"fit"},"transform":[{"filter":"datum.p==='R2'"}],"mark":{"type":"line","color":"#111","strokeWidth":1.2,"interpolate":"monotone"},"encoding":{"x":{"field":"x","type":"quantitative"},"y":{"field":"y","type":"quantitative"}}}
]},
{"width":295,"height":200,"layer":[
{"data":{"name":"bars"},"transform":[{"filter":"datum.p==='L3'"}],"mark":{"type":"rect","fill":"#ff0000","stroke":"#ff6a6a","strokeWidth":0.3},"encoding":{"x":{"field":"a","type":"quantitative","scale":{"domain":[0,20],"nice":false},"axis":null},"x2":{"field":"b"},"y":{"field":"c","type":"quantitative","scale":{"domain":[0,100],"nice":false},"axis":null},"y2":{"datum":0}}},
{"data":{"name":"fit"},"transform":[{"filter":"datum.p==='L3'"}],"mark":{"type":"line","color":"#111","strokeWidth":1.2,"interpolate":"monotone"},"encoding":{"x":{"field":"x","type":"quantitative"},"y":{"field":"y","type":"quantitative"}}},
{"data":{"values":[{}]},"mark":{"type":"text","text":"0.2 V","align":"right","baseline":"alphabetic","fontSize":26},"encoding":{"x":{"datum":19.45},"y":{"datum":83.5}}}
]},
{"width":294,"height":200,"layer":[
{"data":{"name":"bars"},"transform":[{"filter":"datum.p==='R3'"}],"mark":{"type":"rect","fill":"#ff0000","stroke":"#ff6a6a","strokeWidth":0.3},"encoding":{"x":{"field":"a","type":"quantitative","scale":{"domain":[0,20],"nice":false},"axis":null},"x2":{"field":"b"},"y":{"field":"c","type":"quantitative","scale":{"domain":[0,100],"nice":false},"axis":null},"y2":{"datum":0}}},
{"data":{"name":"fit"},"transform":[{"filter":"datum.p==='R3'"}],"mark":{"type":"line","color":"#111","strokeWidth":1.2,"interpolate":"monotone"},"encoding":{"x":{"field":"x","type":"quantitative"},"y":{"field":"y","type":"quantitative"}}}
]},
{"width":295,"height":200,"layer":[
{"data":{"name":"bars"},"transform":[{"filter":"datum.p==='L4'"}],"mark":{"type":"rect","fill":"#ff0000","stroke":"#ff6a6a","strokeWidth":0.3},"encoding":{"x":{"field":"a","type":"quantitative","scale":{"domain":[0,20],"nice":false},"axis":{"values":[0,2.5,5,7.5,10,12.5,15,17.5,20],"labelExpr":"datum.value % 5 === 0 ? datum.label : ''"}},"x2":{"field":"b"},"y":{"field":"c","type":"quantitative","scale":{"domain":[0,100],"nice":false},"axis":null},"y2":{"datum":0}}},
{"data":{"name":"fit"},"transform":[{"filter":"datum.p==='L4'"}],"mark":{"type":"line","color":"#111","strokeWidth":1.2,"interpolate":"monotone"},"encoding":{"x":{"field":"x","type":"quantitative"},"y":{"field":"y","type":"quantitative"}}},
{"data":{"values":[{}]},"mark":{"type":"text","text":"0.1 V","align":"right","baseline":"alphabetic","fontSize":26},"encoding":{"x":{"datum":19.45},"y":{"datum":83.5}}},
{"data":{"values":[{}]},"mark":{"type":"text","text":"I","align":"left","baseline":"alphabetic","fontSize":25,"fontStyle":"italic"},"encoding":{"x":{"datum":7.46},"y":{"datum":-30.5}}},
{"data":{"values":[{}]},"mark":{"type":"text","text":"ion","align":"left","baseline":"alphabetic","fontSize":16},"encoding":{"x":{"datum":7.82},"y":{"datum":-34.5}}},
{"data":{"values":[{}]},"mark":{"type":"text","text":"/ nA","align":"left","baseline":"alphabetic","fontSize":26},"encoding":{"x":{"datum":9.36},"y":{"datum":-30.5}}}
]},
{"width":294,"height":200,"layer":[
{"data":{"name":"bars"},"transform":[{"filter":"datum.p==='R4'"}],"mark":{"type":"rect","fill":"#ff0000","stroke":"#ff6a6a","strokeWidth":0.3},"encoding":{"x":{"field":"a","type":"quantitative","scale":{"domain":[0,20],"nice":false},"axis":{"values":[0,2.5,5,7.5,10,12.5,15,17.5,20],"labelExpr":"datum.value % 5 === 0 ? datum.label : ''"}},"x2":{"field":"b"},"y":{"field":"c","type":"quantitative","scale":{"domain":[0,100],"nice":false},"axis":null},"y2":{"datum":0}}},
{"data":{"name":"fit"},"transform":[{"filter":"datum.p==='R4'"}],"mark":{"type":"line","color":"#111","strokeWidth":1.2,"interpolate":"monotone"},"encoding":{"x":{"field":"x","type":"quantitative"},"y":{"field":"y","type":"quantitative"}}},
{"data":{"values":[{}]},"mark":{"type":"text","text":"I","align":"left","baseline":"alphabetic","fontSize":25,"fontStyle":"italic"},"encoding":{"x":{"datum":7.48},"y":{"datum":-30.5}}},
{"data":{"values":[{}]},"mark":{"type":"text","text":"ion","align":"left","baseline":"alphabetic","fontSize":16},"encoding":{"x":{"datum":7.84},"y":{"datum":-34.5}}},
{"data":{"values":[{}]},"mark":{"type":"text","text":"/ nA","align":"left","baseline":"alphabetic","fontSize":26},"encoding":{"x":{"datum":9.39},"y":{"datum":-30.5}}}
]}
]
}
